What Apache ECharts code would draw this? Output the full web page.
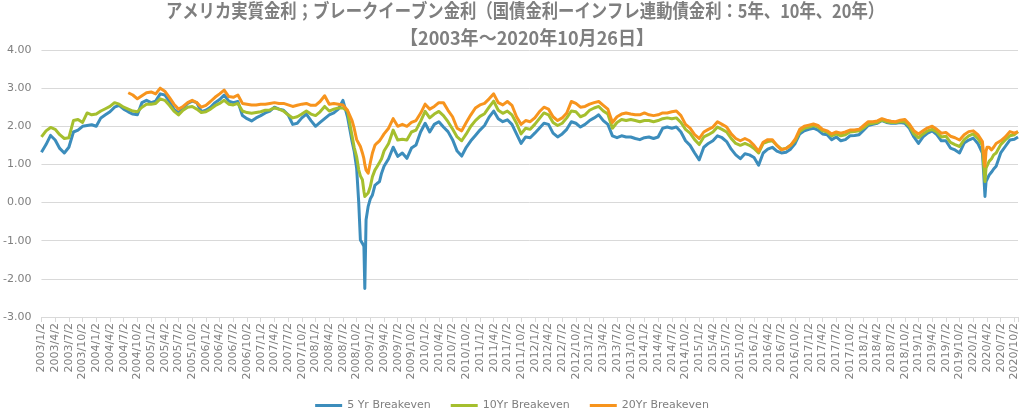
<!DOCTYPE html>
<html><head><meta charset="utf-8">
<script src="https://cdn.jsdelivr.net/npm/echarts@6/dist/echarts.min.js"></script>
<style>html,body{margin:0;padding:0;background:#fff}#c{width:1024px;height:414px}</style>
</head><body><div id="c"></div>
<script>
// Observation dates (monthly, with extra points around the 2008 and 2020 shocks)
const dates = [
"2003/1/2","2003/2/2","2003/3/2","2003/4/2","2003/5/2","2003/6/2","2003/7/2","2003/8/2","2003/9/2","2003/10/2","2003/11/2","2003/12/2",
"2004/1/2","2004/2/2","2004/3/2","2004/4/2","2004/5/2","2004/6/2","2004/7/2","2004/8/2","2004/9/2","2004/10/2","2004/11/2","2004/12/2",
"2005/1/2","2005/2/2","2005/3/2","2005/4/2","2005/5/2","2005/6/2","2005/7/2","2005/8/2","2005/9/2","2005/10/2","2005/11/2","2005/12/2",
"2006/1/2","2006/2/2","2006/3/2","2006/4/2","2006/5/2","2006/6/2","2006/7/2","2006/8/2","2006/9/2","2006/10/2","2006/11/2","2006/12/2",
"2007/1/2","2007/2/2","2007/3/2","2007/4/2","2007/5/2","2007/6/2","2007/7/2","2007/8/2","2007/9/2","2007/10/2","2007/11/2","2007/12/2",
"2008/1/2","2008/2/2","2008/3/2","2008/4/2","2008/5/2","2008/6/2","2008/7/2","2008/8/2","2008/9/2","2008/9/16","2008/10/2","2008/10/16","2008/10/27","2008/11/10","2008/11/20","2008/11/26","2008/12/4","2008/12/18",
"2009/1/2","2009/1/16","2009/2/2","2009/2/16","2009/3/2","2009/3/16","2009/4/2","2009/5/2","2009/6/2","2009/7/2","2009/8/2","2009/9/2","2009/10/2","2009/11/2","2009/12/2",
"2010/1/2","2010/2/2","2010/3/2","2010/4/2","2010/5/2","2010/6/2","2010/7/2","2010/8/2","2010/9/2","2010/10/2","2010/11/2","2010/12/2",
"2011/1/2","2011/2/2","2011/3/2","2011/4/2","2011/5/2","2011/6/2","2011/7/2","2011/8/2","2011/9/2","2011/10/2","2011/11/2","2011/12/2",
"2012/1/2","2012/2/2","2012/3/2","2012/4/2","2012/5/2","2012/6/2","2012/7/2","2012/8/2","2012/9/2","2012/10/2","2012/11/2","2012/12/2",
"2013/1/2","2013/2/2","2013/3/2","2013/4/2","2013/5/2","2013/6/2","2013/7/2","2013/8/2","2013/9/2","2013/10/2","2013/11/2","2013/12/2",
"2014/1/2","2014/2/2","2014/3/2","2014/4/2","2014/5/2","2014/6/2","2014/7/2","2014/8/2","2014/9/2","2014/10/2","2014/11/2","2014/12/2",
"2015/1/2","2015/2/2","2015/3/2","2015/4/2","2015/5/2","2015/6/2","2015/7/2","2015/8/2","2015/9/2","2015/10/2","2015/11/2","2015/12/2",
"2016/1/2","2016/2/2","2016/3/2","2016/4/2","2016/5/2","2016/6/2","2016/7/2","2016/8/2","2016/9/2","2016/10/2","2016/11/2","2016/12/2",
"2017/1/2","2017/2/2","2017/3/2","2017/4/2","2017/5/2","2017/6/2","2017/7/2","2017/8/2","2017/9/2","2017/10/2","2017/11/2","2017/12/2",
"2018/1/2","2018/2/2","2018/3/2","2018/4/2","2018/5/2","2018/6/2","2018/7/2","2018/8/2","2018/9/2","2018/10/2","2018/11/2","2018/12/2",
"2019/1/2","2019/2/2","2019/3/2","2019/4/2","2019/5/2","2019/6/2","2019/7/2","2019/8/2","2019/9/2","2019/10/2","2019/11/2","2019/12/2",
"2020/1/2","2020/2/2","2020/3/2","2020/3/10","2020/3/19","2020/3/26","2020/4/2","2020/4/16","2020/5/2","2020/5/16","2020/6/2","2020/7/2","2020/8/2","2020/9/2","2020/10/2","2020/10/26"
];

const be5 = [
1.32,1.52,1.76,1.64,1.42,1.30,1.45,1.85,1.90,2.00,2.02,2.04,
2.00,2.22,2.30,2.38,2.50,2.55,2.45,2.38,2.32,2.30,2.62,2.68,
2.62,2.66,2.85,2.82,2.65,2.45,2.35,2.48,2.60,2.66,2.62,2.38,
2.42,2.50,2.62,2.70,2.82,2.66,2.62,2.65,2.28,2.20,2.14,2.22,
2.28,2.35,2.40,2.50,2.45,2.42,2.30,2.05,2.08,2.22,2.32,2.15,
2.00,2.10,2.20,2.30,2.35,2.45,2.68,2.25,1.60,1.35,0.90,0.00,-0.98,-1.07,-1.15,-2.25,-0.45,-0.10,
0.10,0.20,0.45,0.50,0.55,0.77,0.95,1.15,1.45,1.21,1.30,1.16,1.43,1.51,1.85,
2.08,1.85,2.05,2.12,1.98,1.86,1.65,1.35,1.22,1.45,1.62,1.76,
1.90,2.02,2.24,2.40,2.20,2.12,2.17,2.05,1.80,1.55,1.72,1.70,
1.82,1.95,2.08,2.05,1.82,1.72,1.80,1.92,2.12,2.08,1.98,2.05,
2.15,2.22,2.30,2.15,2.05,1.75,1.70,1.75,1.72,1.72,1.68,1.65,
1.70,1.72,1.68,1.72,1.95,1.98,1.95,1.98,1.85,1.62,1.50,1.30,
1.12,1.45,1.55,1.62,1.75,1.70,1.60,1.40,1.25,1.15,1.28,1.25,
1.18,0.98,1.30,1.40,1.45,1.35,1.30,1.32,1.40,1.55,1.80,1.88,
1.92,1.95,1.90,1.80,1.78,1.65,1.72,1.62,1.65,1.75,1.76,1.78,
1.90,2.02,2.05,2.08,2.15,2.10,2.08,2.08,2.10,2.08,1.95,1.72,
1.55,1.72,1.82,1.88,1.78,1.62,1.62,1.43,1.38,1.30,1.56,1.64,
1.69,1.55,1.30,0.80,0.16,0.55,0.60,0.72,0.80,0.88,0.95,1.30,1.47,1.64,1.66,1.72
];

const be10 = [
1.72,1.88,1.97,1.92,1.78,1.68,1.70,2.15,2.18,2.10,2.35,2.30,
2.32,2.40,2.46,2.52,2.62,2.58,2.50,2.45,2.40,2.38,2.50,2.58,
2.58,2.60,2.72,2.68,2.55,2.40,2.30,2.42,2.50,2.52,2.45,2.36,
2.38,2.45,2.54,2.60,2.68,2.58,2.56,2.60,2.40,2.36,2.34,2.36,
2.38,2.42,2.43,2.48,2.45,2.40,2.30,2.22,2.25,2.32,2.40,2.32,
2.28,2.38,2.52,2.40,2.45,2.48,2.48,2.40,1.75,1.45,1.20,0.86,0.70,0.60,0.30,0.16,0.11,0.25,
0.42,0.68,0.85,0.94,1.05,1.15,1.35,1.55,1.90,1.64,1.66,1.64,1.85,1.90,2.13,
2.39,2.22,2.32,2.39,2.28,2.12,1.93,1.72,1.62,1.80,2.00,2.15,
2.26,2.33,2.50,2.66,2.42,2.34,2.40,2.30,2.08,1.80,1.95,1.92,
2.05,2.20,2.35,2.30,2.10,2.02,2.08,2.22,2.40,2.38,2.25,2.30,
2.42,2.48,2.52,2.40,2.32,1.95,2.10,2.18,2.15,2.18,2.15,2.12,
2.15,2.15,2.12,2.15,2.20,2.22,2.20,2.22,2.10,1.92,1.82,1.65,
1.52,1.72,1.78,1.85,1.98,1.92,1.85,1.68,1.55,1.50,1.55,1.50,
1.42,1.30,1.55,1.60,1.62,1.50,1.40,1.42,1.50,1.62,1.86,1.95,
1.98,2.02,1.98,1.88,1.85,1.75,1.80,1.75,1.78,1.85,1.86,1.88,
1.96,2.06,2.08,2.10,2.16,2.12,2.10,2.10,2.12,2.12,2.00,1.80,
1.70,1.80,1.88,1.92,1.85,1.72,1.74,1.58,1.52,1.47,1.65,1.75,
1.80,1.68,1.50,1.00,0.55,0.90,0.95,1.08,1.15,1.25,1.30,1.52,1.64,1.75,1.78,1.86
];

const be20 = [
null,null,null,null,null,null,null,null,null,null,null,null,
null,null,null,null,null,null,null,2.88,2.82,2.72,2.80,2.88,
2.90,2.85,3.00,2.92,2.76,2.58,2.45,2.52,2.62,2.68,2.62,2.50,
2.55,2.65,2.76,2.85,2.95,2.78,2.76,2.82,2.60,2.58,2.56,2.56,
2.58,2.58,2.60,2.62,2.60,2.60,2.56,2.52,2.55,2.58,2.60,2.55,
2.55,2.65,2.80,2.58,2.60,2.58,2.56,2.42,2.15,1.95,1.65,1.55,1.47,1.30,1.15,1.00,0.85,0.77,
1.05,1.30,1.50,1.56,1.62,1.70,1.80,1.95,2.20,2.00,2.05,2.00,2.10,2.15,2.34,
2.58,2.45,2.52,2.62,2.62,2.42,2.25,1.95,1.88,2.10,2.30,2.48,
2.56,2.60,2.72,2.85,2.62,2.56,2.65,2.55,2.25,2.05,2.15,2.12,
2.22,2.38,2.50,2.45,2.25,2.15,2.22,2.35,2.65,2.60,2.50,2.52,
2.58,2.62,2.65,2.55,2.45,2.10,2.25,2.32,2.35,2.32,2.30,2.30,
2.35,2.30,2.28,2.30,2.35,2.35,2.38,2.40,2.28,2.05,1.95,1.78,
1.68,1.85,1.92,1.98,2.12,2.05,1.98,1.80,1.68,1.62,1.68,1.62,
1.50,1.35,1.58,1.65,1.65,1.50,1.38,1.42,1.50,1.66,1.92,2.00,
2.03,2.06,2.02,1.92,1.88,1.80,1.85,1.82,1.85,1.90,1.90,1.92,
2.02,2.12,2.12,2.14,2.20,2.16,2.13,2.12,2.16,2.18,2.06,1.88,
1.80,1.88,1.96,2.00,1.92,1.82,1.84,1.74,1.70,1.64,1.78,1.86,
1.88,1.78,1.60,1.25,0.95,1.35,1.45,1.45,1.38,1.45,1.55,1.62,1.72,1.86,1.82,1.86
];

const seriesNames = ["5 Yr Breakeven", "10Yr Breakeven", "20Yr Breakeven"];
const seriesColors = ["#3c8dbc", "#a5bf2e", "#f7941d"];
const titleLines = ["アメリカ実質金利；ブレークイーブン金利（国債金利ーインフレ連動債金利：5年、10年、20年）", "【2003年～2020年10月26日】"];

// months elapsed since 2003/1/2 (used as the x value)
function monthIndex(s) {
  const p = s.split('/').map(Number);
  return (p[0] - 2003) * 12 + (p[1] - 1) + (p[2] - 2) / 30.44;
}
function pairs(vals) { return dates.map((d, i) => [monthIndex(d), vals[i]]); }

const chart = echarts.init(document.getElementById('c'), null, {renderer: 'canvas'});
const gray = '#7f7f7f';
const titleFont = 'bold 19px "Noto Sans CJK JP"';
const option = {
  animation: false,
  backgroundColor: '#fff',
  graphic: [
    {type: 'text', x: 525, y: 11, scaleX: 0.86, silent: true,
     style: {text: titleLines[0], font: titleFont, fill: gray, align: 'center', verticalAlign: 'middle'}},
    {type: 'text', x: 527, y: 38, scaleX: 0.95, silent: true,
     style: {text: titleLines[1], font: titleFont, fill: gray, align: 'center', verticalAlign: 'middle'}}
  ],
  grid: {left: 41, right: 6, top: 50, bottom: 97, containLabel: false},
  legend: {
    data: seriesNames, top: 395, left: 'center', icon: 'rect', itemWidth: 27, itemHeight: 3, itemGap: 20,
    textStyle: {fontFamily: 'DejaVu Sans', fontSize: 11, color: gray}
  },
  xAxis: {
    type: 'value', min: 0, max: monthIndex(dates[dates.length - 1]), interval: 3,
    axisLine: {show: true, onZero: false, lineStyle: {color: '#d9d9d9'}},
    axisTick: {show: true, length: 5, lineStyle: {color: '#d9d9d9'}},
    splitLine: {show: false},
    axisLabel: {
      rotate: 90, fontFamily: 'DejaVu Sans', fontSize: 11, color: gray, margin: 6,
      showMaxLabel: true,
      formatter: function (v) {
        const r = Math.round(v);
        if (Math.abs(v - r) > 1e-6 || r % 3 !== 0) return '';
        return (2003 + Math.floor(r / 12)) + '/' + (r % 12 + 1) + '/2';
      }
    }
  },
  yAxis: {
    type: 'value', min: -3, max: 4, interval: 1,
    axisLine: {show: false}, axisTick: {show: false},
    splitLine: {lineStyle: {color: '#d9d9d9', width: 1}},
    axisLabel: {fontFamily: 'DejaVu Sans', fontSize: 11, color: gray, margin: 10, formatter: v => v.toFixed(2)}
  },
  series: [be5, be10, be20].map((vals, i) => ({
    name: seriesNames[i], type: 'line', data: pairs(vals), showSymbol: false, symbol: 'none',
    connectNulls: false, color: seriesColors[i],
    lineStyle: {width: 3, color: seriesColors[i], join: 'round'}
  }))
};
chart.setOption(option);
</script>
</body></html>
